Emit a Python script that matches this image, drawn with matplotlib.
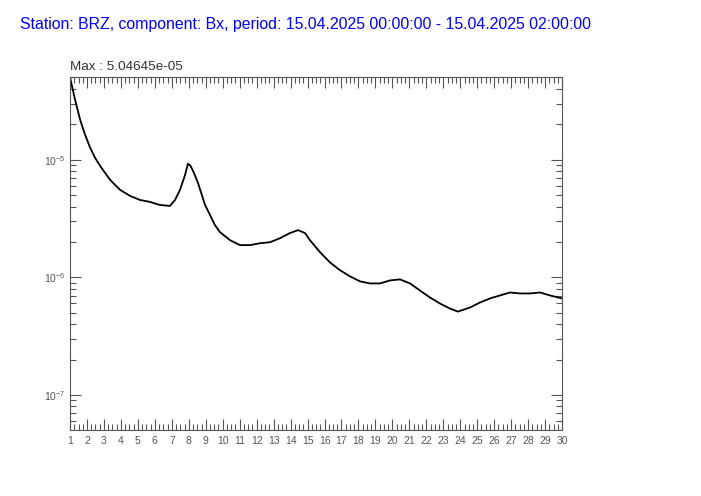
import matplotlib.pyplot as plt
from matplotlib.ticker import MultipleLocator, LogLocator, NullFormatter

# spectrum (x in units of the axis, y amplitude)
freq = [1.00, 1.29, 1.59, 1.88, 2.18, 2.47, 2.77, 3.06, 3.36, 3.65, 3.95,
        4.54, 5.12, 5.71, 6.30, 6.89, 7.19, 7.48, 7.78, 7.95, 8.10, 8.30,
        8.54, 8.96, 9.25, 9.54, 9.84, 10.43, 11.02, 11.61, 12.20, 12.79,
        13.37, 13.96, 14.44, 14.85, 15.14, 15.73, 16.32, 16.91, 17.50,
        18.09, 18.68, 19.27, 19.86, 20.45, 21.04, 21.62, 22.21, 22.80,
        23.39, 23.86, 24.57, 25.16, 25.75, 26.34, 26.93, 27.52, 28.11,
        28.70, 29.29, 30.00]
amp = [5.02e-5, 3.26e-5, 2.20e-5, 1.64e-5, 1.27e-5, 1.04e-5, 8.88e-6,
       7.74e-6, 6.75e-6, 6.11e-6, 5.54e-6, 4.92e-6, 4.55e-6, 4.38e-6,
       4.12e-6, 4.05e-6, 4.55e-6, 5.54e-6, 7.42e-6, 9.24e-6, 8.88e-6,
       7.74e-6, 6.36e-6, 4.12e-6, 3.39e-6, 2.78e-6, 2.42e-6, 2.07e-6,
       1.88e-6, 1.88e-6, 1.95e-6, 1.99e-6, 2.15e-6, 2.38e-6, 2.52e-6,
       2.38e-6, 2.07e-6, 1.64e-6, 1.34e-6, 1.15e-6, 1.02e-6, 9.25e-7,
       8.88e-7, 8.88e-7, 9.42e-7, 9.61e-7, 8.88e-7, 7.74e-7, 6.75e-7,
       6.00e-7, 5.43e-7, 5.12e-7, 5.54e-7, 6.11e-7, 6.62e-7, 7.02e-7,
       7.44e-7, 7.30e-7, 7.30e-7, 7.44e-7, 7.02e-7, 6.62e-7]
max_val = 5.04645e-05
x_ticks = list(range(1, 31))

title = "Station: BRZ, component: Bx, period: 15.04.2025 00:00:00 - 15.04.2025 02:00:00"

plt.rcParams['font.family'] = ['Liberation Sans', 'DejaVu Sans']
fig = plt.figure(figsize=(7.01, 4.96), dpi=100)
ax = fig.add_axes([0.0999, 0.1331, 0.7019, 0.7117])

ax.plot(freq, amp, color='black', lw=1.3)
ax.set_yscale('log')
ax.set_xlim(1, 30)
ax.set_ylim(max_val / 1000, max_val)

ax.set_xticks(x_ticks)
ax.xaxis.set_minor_locator(MultipleLocator(0.25))
ax.yaxis.set_major_locator(LogLocator(base=10))
ax.yaxis.set_minor_locator(LogLocator(base=10, subs=range(2, 10)))
ax.yaxis.set_minor_formatter(NullFormatter())

gray = '#555555'
for s in ax.spines.values():
    s.set_color(gray)
ax.tick_params(which='both', direction='in', top=True, right=True,
               colors=gray, labelsize=7.5, width=0.8)
ax.tick_params(which='major', length=8)
ax.tick_params(which='minor', length=4)
ax.tick_params(axis='x', pad=4)

fig.text(20 / 701, 1 - 24 / 496, title, color='blue', fontsize=11.4,
         va='center', ha='left')
ax.text(0, 1.012, "Max : 5.04645e-05", transform=ax.transAxes,
        fontsize=9.7, color='#333333', ha='left', va='bottom')

fig.savefig('out.png', dpi=100)
